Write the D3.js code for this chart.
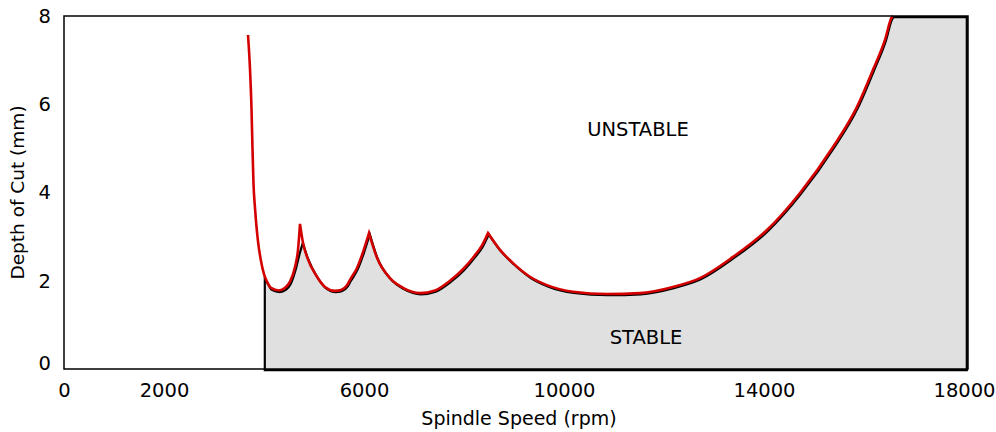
<!DOCTYPE html>
<html>
<head>
<meta charset="utf-8">
<script src="https://cdn.jsdelivr.net/npm/d3@7"></script>
<style>
  html, body { margin: 0; padding: 0; background: #fff; }
  svg { display: block; font-family: "DejaVu Sans", sans-serif; }
</style>
</head>
<body>
<svg id="chart" width="996" height="432"></svg>
<script>
// Stability lobe diagram: spindle speed (rpm) vs. limiting depth of cut (mm)

// Predicted lobe curve (red)
const lobeRpm   = [3680, 3720, 3750, 3770, 3790, 3820, 3860, 3900, 3940, 4000, 4060, 4140, 4300,
                   4420, 4520, 4620, 4680, 4720,
                   4780, 4860, 5060, 5220, 5420, 5540, 5660, 5720, 5860, 5980, 6100,
                   6260, 6520, 6780, 7120, 7420, 7720, 7980, 8200, 8360, 8480,
                   8720, 8980, 9320, 9660, 10180, 10860, 11520, 12180, 12720, 13380, 14060,
                   14720, 15380, 15860, 16180, 16420, 16560, 16580];
const lobeDepth = [7.57, 6.80, 5.90, 5.00, 4.20, 3.65, 3.10, 2.72, 2.45, 2.15, 1.98, 1.84, 1.78,
                   1.84, 1.98, 2.31, 2.70, 3.29,
                   2.86, 2.54, 2.09, 1.86, 1.77, 1.79, 1.90, 2.02, 2.29, 2.65, 3.08,
                   2.52, 2.06, 1.84, 1.72, 1.78, 2.00, 2.26, 2.55, 2.80, 3.08,
                   2.70, 2.40, 2.09, 1.90, 1.75, 1.70, 1.72, 1.86, 2.06, 2.54, 3.15,
                   3.99, 5.03, 5.94, 6.78, 7.46, 7.98, 8.00];
// rpm values where the red curve has a sharp cusp
const lobeCusps = [4720, 6100, 8480];

// Stable region boundary (black outline, grey fill)
const stableRpm   = [4000, 4000, 4060, 4140, 4300, 4420, 4520, 4620, 4700, 4760,
                     4860, 5060, 5220, 5420, 5540, 5660, 5720, 5860, 5980, 6100,
                     6260, 6520, 6780, 7120, 7420, 7720, 7980, 8200, 8360, 8480,
                     8720, 8980, 9320, 9660, 10180, 10860, 11520, 12180, 12720, 13380, 14060,
                     14720, 15380, 15860, 16180, 16420, 16560, 16580,
                     18040, 18040];
const stableDepth = [0.00, 2.06, 1.96, 1.82, 1.77, 1.82, 1.96, 2.29, 2.65, 2.88,
                     2.54, 2.09, 1.86, 1.77, 1.79, 1.90, 2.02, 2.29, 2.65, 3.08,
                     2.52, 2.06, 1.84, 1.72, 1.78, 2.00, 2.26, 2.55, 2.80, 3.08,
                     2.70, 2.40, 2.09, 1.90, 1.75, 1.70, 1.72, 1.86, 2.06, 2.54, 3.15,
                     3.99, 5.03, 5.94, 6.78, 7.46, 7.98, 8.00,
                     8.00, 0.00];
// rpm values where the boundary has a corner or cusp
const stableCusps = [4000, 4760, 6100, 8480, 16580, 18040];

// Axis ticks and labels
const xTicks = [0, 2000, 6000, 10000, 14000, 18000];
const yTicks = [0, 2, 4, 6, 8];
const xTitle = "Spindle Speed (rpm)";
const yTitle = "Depth of Cut (mm)";
const regionLabels = [
  { text: "UNSTABLE", rpm: 11480, depth: 5.43 },
  { text: "STABLE",   rpm: 11640, depth: 0.71 }
];

const svg = d3.select("#chart");
const plotLeft = 64, plotRight = 968, plotTop = 16, plotBottom = 369;

const x = d3.scaleLinear().domain([0, 18080]).range([plotLeft, plotRight]);
const y = d3.scaleLinear().domain([0, 8]).range([plotBottom, plotTop]);

const smooth = d3.line()
  .x(d => x(d[0])).y(d => y(d[1]))
  .curve(d3.curveMonotoneX);

// Smooth path that keeps sharp corners at the break points (and at vertical steps)
function piecewisePath(points, breaks) {
  const segments = [];
  let current = [points[0]];
  for (let i = 1; i < points.length; i++) {
    const verticalStep = points[i][0] === points[i - 1][0];
    if (verticalStep) {
      if (current.length > 1) segments.push(current);
      segments.push([points[i - 1], points[i]]);
      current = [points[i]];
      continue;
    }
    current.push(points[i]);
    if (breaks.includes(points[i][0]) && i + 1 < points.length) {
      segments.push(current);
      current = [points[i]];
    }
  }
  if (current.length > 1) segments.push(current);
  return segments.map((seg, k) => {
    const d = seg[0][0] === seg[1][0] && seg.length === 2
      ? `M${x(seg[0][0])},${y(seg[0][1])}L${x(seg[1][0])},${y(seg[1][1])}`
      : smooth(seg);
    return k === 0 ? d : "L" + d.slice(1);
  }).join("");
}

const lobe = lobeRpm.map((r, i) => [r, lobeDepth[i]]);
const stable = stableRpm.map((r, i) => [r, stableDepth[i]]);
const stablePath = piecewisePath(stable, stableCusps) + "Z";

// Stable region
svg.append("path")
  .attr("d", stablePath)
  .attr("fill", "#e0e0e0")
  .attr("stroke", "none");

// Stable boundary outline, sitting just beneath the lobe curve
svg.append("path")
  .attr("d", stablePath)
  .attr("fill", "none")
  .attr("stroke", "#000")
  .attr("stroke-width", 2.2)
  .attr("stroke-linejoin", "miter")
  .attr("transform", "translate(0.8,1.2)");

// Lobe curve
svg.append("path")
  .attr("d", piecewisePath(lobe, lobeCusps))
  .attr("fill", "none")
  .attr("stroke", "#d40000")
  .attr("stroke-width", 2.6)
  .attr("stroke-linejoin", "miter");

// Plot frame
svg.append("rect")
  .attr("x", plotLeft).attr("y", plotTop)
  .attr("width", plotRight - plotLeft).attr("height", plotBottom - plotTop)
  .attr("fill", "none")
  .attr("stroke", "#000")
  .attr("stroke-width", 1.5);

// Axes (labels only, no tick marks)
const xAxis = svg.append("g")
  .attr("transform", `translate(0,${plotBottom})`)
  .call(d3.axisBottom(x).tickValues(xTicks).tickSize(0).tickPadding(14).tickFormat(d3.format("d")));
xAxis.select(".domain").remove();

const yAxis = svg.append("g")
  .attr("transform", `translate(${plotLeft},0)`)
  .call(d3.axisLeft(y).tickValues(yTicks).tickSize(0).tickPadding(13).tickFormat(d3.format("d")));
yAxis.select(".domain").remove();
// lift the zero label clear of the x labels
yAxis.selectAll(".tick").filter(d => d === 0).select("text").attr("dy", "0.0em");

svg.selectAll(".tick text")
  .attr("font-family", "DejaVu Sans, sans-serif")
  .attr("font-size", 19.5)
  .attr("fill", "#000");

// Axis titles
svg.append("text")
  .attr("x", (plotLeft + plotRight) / 2 + 3)
  .attr("y", 425)
  .attr("text-anchor", "middle")
  .attr("font-size", 19)
  .text(xTitle);

svg.append("text")
  .attr("transform", `translate(24,${(plotTop + plotBottom) / 2}) rotate(-90)`)
  .attr("text-anchor", "middle")
  .attr("font-size", 18.5)
  .text(yTitle);

// Region labels
svg.selectAll(".region")
  .data(regionLabels)
  .join("text")
  .attr("class", "region")
  .attr("x", d => x(d.rpm))
  .attr("y", d => y(d.depth))
  .attr("text-anchor", "middle")
  .attr("dy", "0.35em")
  .attr("font-size", 19.5)
  .text(d => d.text);
</script>
</body>
</html>
